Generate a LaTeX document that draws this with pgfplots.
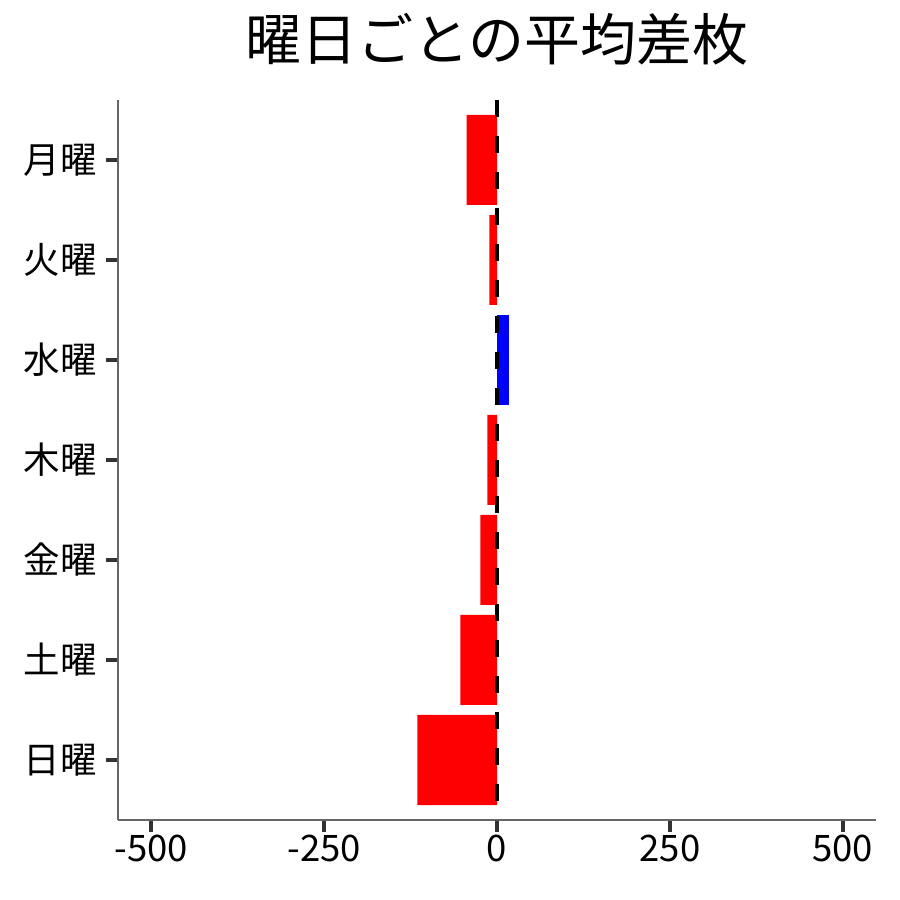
\documentclass[border=0pt]{standalone}
\usepackage{fontspec}
\setmainfont{Noto Sans CJK JP}
\usepackage{pgfplots}
\pgfplotsset{compat=1.18}
\begin{document}
\begin{tikzpicture}
\useasboundingbox (-118pt,-80pt) rectangle (782pt,820pt);
\begin{axis}[
  at={(0,0)}, anchor=south west,
  scale only axis, width=758pt, height=720pt,
  xbar, bar width=0.9, bar shift=0pt,
  xmin=-548, xmax=548, ymin=-0.6, ymax=6.6,
  axis x line*=bottom, axis y line*=left,
  axis line style={draw=black!60, line width=1.3pt},
  xtick={-500,-250,0,250,500},
  xticklabels={-500,-250,0,250,500},
  ytick={0,1,2,3,4,5,6},
  yticklabels={日曜,土曜,金曜,木曜,水曜,火曜,月曜},
  tick align=outside, major tick length=12pt,
  tick style={draw=black!80, line width=4pt},
  ticklabel style={font=\fontsize{36.5}{40}\selectfont, inner sep=3pt},
  yticklabel style={xshift=-6pt},
  title={曜日ごとの平均差枚},
  title style={font=\fontsize{56}{60}\selectfont, at={(0.5,1)}, anchor=center, yshift=55pt},
]
\addplot[fill=red, draw=none] coordinates {(-44,6) (-11,5) (-14,3) (-24,2) (-53,1) (-115,0)};
\addplot[fill=blue, draw=none] coordinates {(17,4)};
\addplot[sharp plot, no marks, black, line width=4.5pt, dash pattern=on 17pt off 19pt, forget plot] coordinates {(0,6.6) (0,-0.6)};
\end{axis}
\end{tikzpicture}
\end{document}
